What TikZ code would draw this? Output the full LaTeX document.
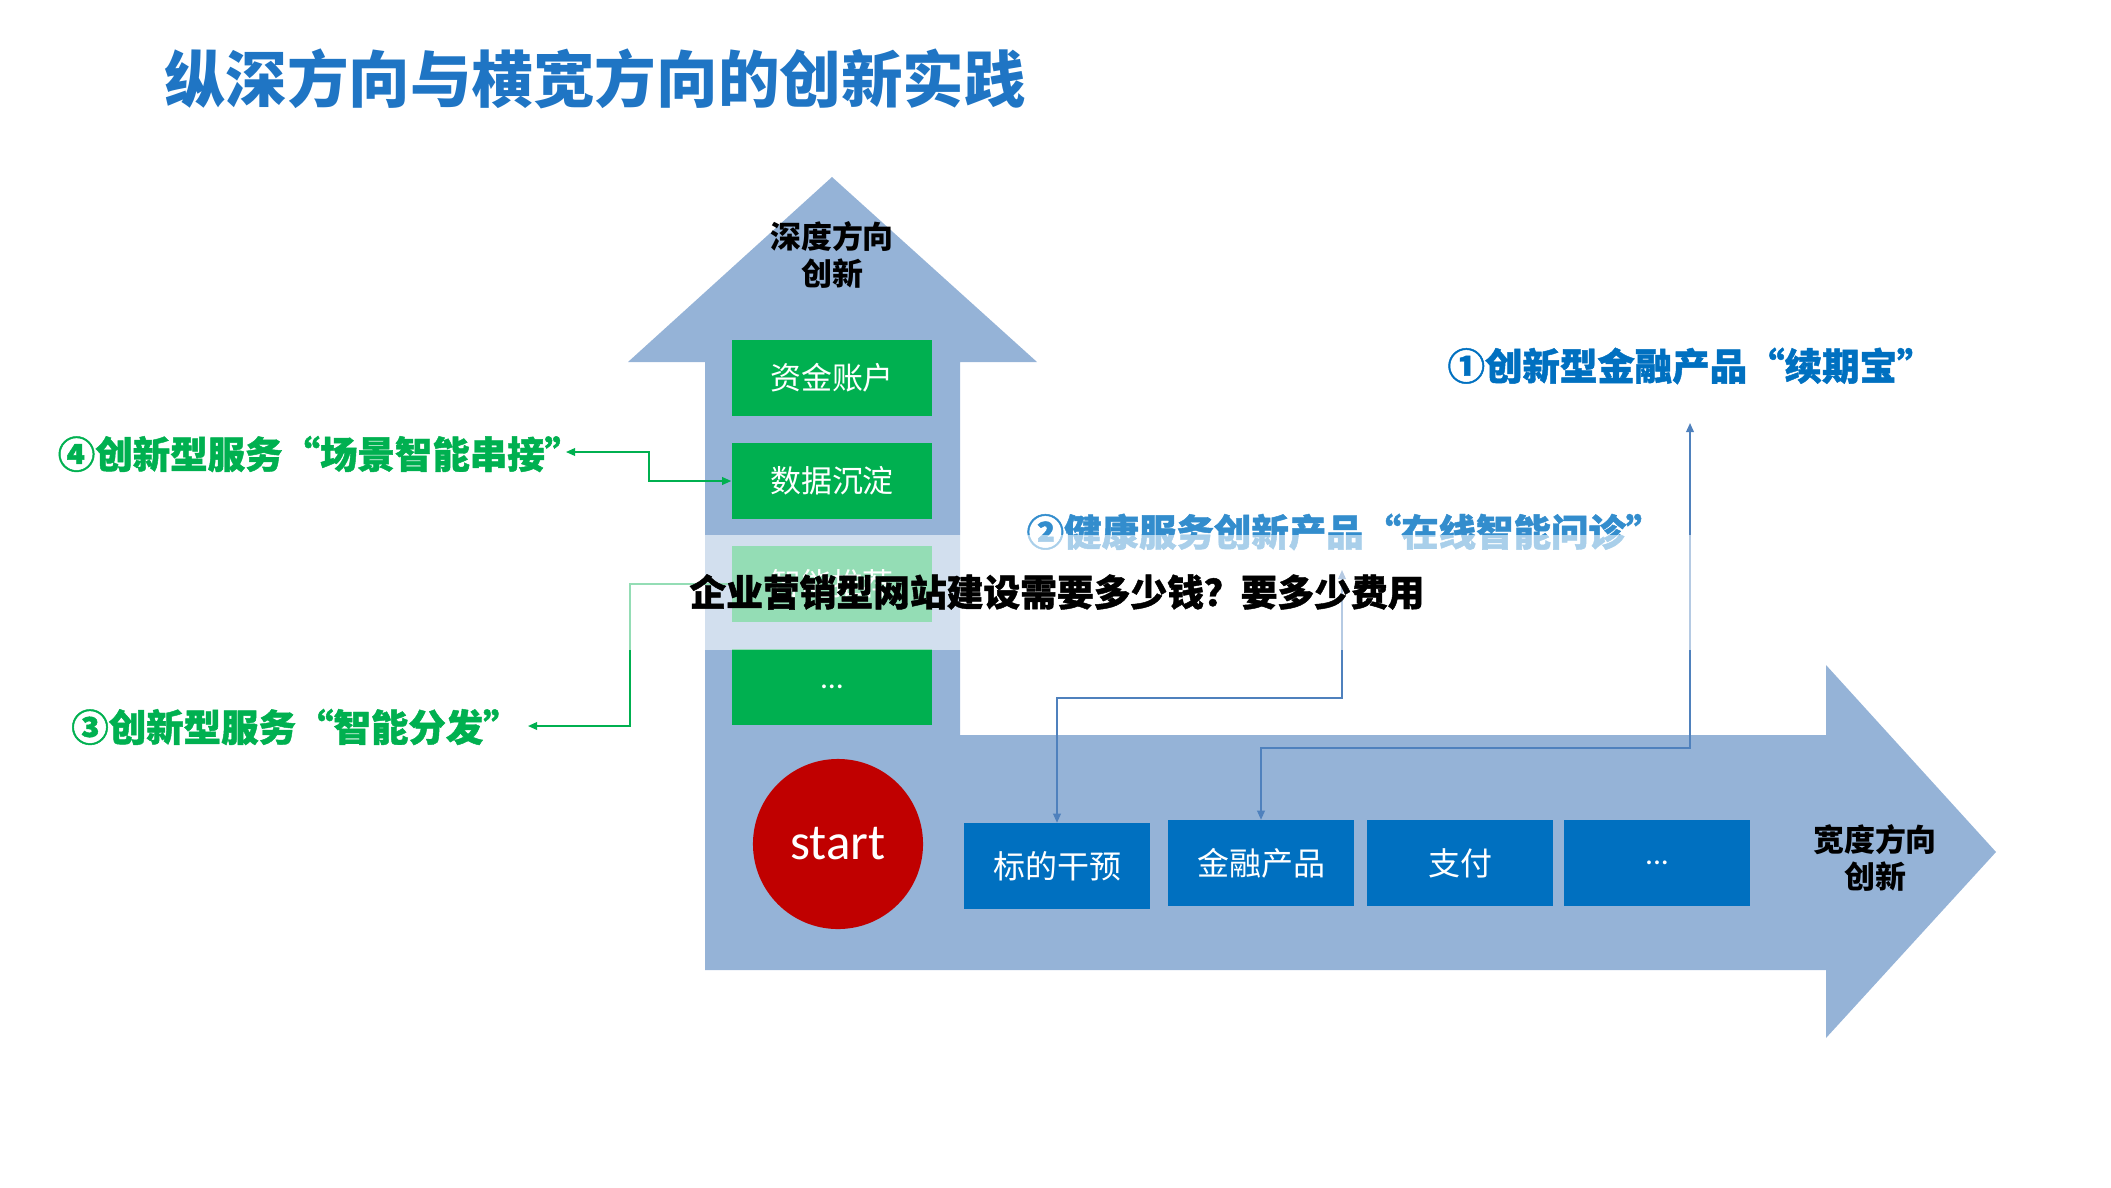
\documentclass[tikz,border=0pt]{standalone}
\usepackage{fontspec}
\setmainfont{Carlito}
\newfontfamily\cjk{Noto Sans CJK SC}
\newfontfamily\cjkheavy[BoldFeatures={FakeBold=1.2}]{Noto Sans CJK SC}
\usetikzlibrary{arrows.meta}

\definecolor{arrowblue}{HTML}{95B3D7}
\definecolor{boxgreen}{HTML}{00B050}
\definecolor{boxblue}{HTML}{0070C0}
\definecolor{startred}{HTML}{C00000}
\definecolor{linkblue}{HTML}{4F81BD}
\definecolor{titleblue}{HTML}{1F75C4}

\tikzset{
	greenbox/.style={fill=boxgreen, text=white, minimum width=2cm, minimum height=0.75cm, inner sep=0pt, font=\cjk\fontsize{8.8}{10}\selectfont},
	bluebox/.style={fill=boxblue, text=white, minimum width=1.86cm, minimum height=0.85cm, inner sep=0pt, font=\cjk\fontsize{9.1}{10}\selectfont},
	tagtext/.style={font=\cjkheavy\bfseries\fontsize{10.65}{12}\selectfont, inner sep=1pt},
	headtext/.style={font=\cjk\bfseries\fontsize{8.8}{10.3}\selectfont, align=center, inner sep=0pt},
	greenlink/.style={draw=boxgreen, line width=0.45pt},
	bluelink/.style={draw=linkblue, line width=0.45pt}
}

\begin{document}
\begin{tikzpicture}[x=0.01cm, y=-0.01cm, >={Triangle[length=2.6pt,width=2.2pt]}]
		%%%%% START %%%%%
		\useasboundingbox (0,0) rectangle (2111,1187);
		
		\node[font=\cjk\bfseries\fontsize{17.5}{20}\selectfont, text=titleblue] (title) at (595, 79) {纵深方向与横宽方向的创新实践};
		
		% L shaped arrow
		\fill[arrowblue] (705, 970) -- (705, 362) -- (628, 362) -- (832, 177) -- (1037, 362) -- (960, 362)
			-- (960, 735) -- (1826, 735) -- (1826, 665) -- (1996, 852) -- (1826, 1038) -- (1826, 970) -- cycle;
		
		\node[headtext] (deep) at (832, 255) {深度方向\\创新};
		\node[headtext] (wide) at (1875, 858) {宽度方向\\创新};
		
		\node[greenbox] (gb1) at (832, 378) {资金账户};
		\node[greenbox] (gb2) at (832, 481) {数据沉淀};
		\node[greenbox] (gb3) at (832, 584) {智能推荐};
		\node[greenbox, font=\fontsize{9}{10}\selectfont] (gb4) at (832, 687) {...};
		
		\node[circle, fill=startred, minimum size=1.7cm, inner sep=0pt, text=white, font=\fontsize{14.5}{16}\selectfont] (start) at (838, 844) {start};
		
		\node[bluebox] (tb1) at (1057, 866) {标的干预};
		\node[bluebox] (tb2) at (1261, 863) {金融产品};
		\node[bluebox] (tb3) at (1460, 863) {支付};
		\node[bluebox, font=\fontsize{9}{10}\selectfont] (tb4) at (1657, 863) {...};
		
		\node[tagtext, text=boxblue] (tag1) at (1691, 366) {①创新型金融产品“续期宝”};
		\node[tagtext, text=boxblue!80!white] (tag2) at (1345, 532) {②健康服务创新产品“在线智能问诊”};
		\node[tagtext, text=boxgreen] (tag3) at (296, 727) {③创新型服务“智能分发”};
		\node[tagtext, text=boxgreen] (tag4) at (320, 454) {④创新型服务“场景智能串接”};
		
		% connectors
		\coordinate (end4) at (566, 452);
		\coordinate (bend4) at (649, 452);
		\draw[greenlink, <->] (end4) -| (bend4 |- gb2.west) -- (gb2.west);
		
		\coordinate (bend3) at (630, 726);
		\coordinate (end3) at (528, 726);
		\draw[greenlink, ->] (gb3.west) -| (bend3) -- (end3);
		
		\coordinate (bend2) at (1342, 698);
		\coordinate (end2) at (1342, 570);
		\draw[bluelink, <->] (tb1.north) |- (bend2) -- (end2);
		
		\coordinate (bend1) at (1690, 748);
		\coordinate (end1) at (1690, 423);
		\draw[bluelink, <->] (tb2.north) |- (bend1) -- (end1);
		
		% light band and overprint
		\fill[white, opacity=0.58] (0, 535) rectangle (2111, 650);
		\node[font=\cjkheavy\bfseries\fontsize{10.45}{12}\selectfont] (note) at (1057, 592) {企业营销型网站建设需要多少钱？要多少费用};
		
		%%%%% END %%%%%
\end{tikzpicture}
\end{document}
